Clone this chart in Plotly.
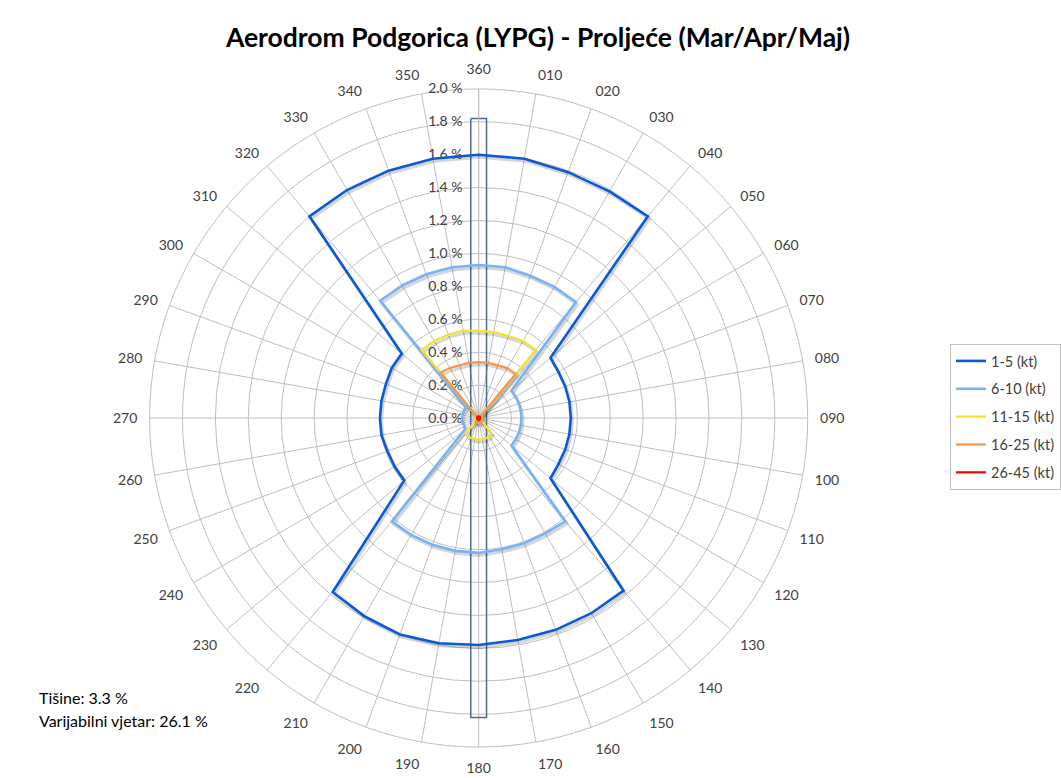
import math
import plotly.graph_objects as go

directions = [10, 20, 30, 40, 50, 60, 70, 80, 90, 100, 110, 120, 130, 140, 150, 160, 170, 180,
              190, 200, 210, 220, 230, 240, 250, 260, 270, 280, 290, 300, 310, 320, 330, 340, 350, 360]
dir_labels = ["%03d" % d for d in directions]

speed_1_5 = [1.60, 1.59, 1.59, 1.60, 0.57, 0.56, 0.56, 0.56, 0.56, 0.56, 0.56, 0.56, 0.57, 1.37,
             1.37, 1.37, 1.37, 1.38, 1.39, 1.40, 1.39, 1.38, 0.59, 0.59, 0.59, 0.60, 0.60, 0.60,
             0.60, 0.61, 0.61, 1.60, 1.60, 1.60, 1.60, 1.60]
speed_6_10 = [0.93, 0.92, 0.92, 0.92, 0.26, 0.26, 0.26, 0.26, 0.26, 0.26, 0.26, 0.26, 0.26, 0.82,
              0.81, 0.81, 0.81, 0.82, 0.82, 0.82, 0.82, 0.82, 0.11, 0.10, 0.10, 0.10, 0.10, 0.10,
              0.10, 0.10, 0.10, 0.93, 0.93, 0.93, 0.93, 0.93]
speed_11_15 = [0.53, 0.53, 0.54, 0.54, 0.02, 0.02, 0.02, 0.02, 0.02, 0.02, 0.02, 0.02, 0.02, 0.12,
               0.13, 0.13, 0.13, 0.13, 0.13, 0.13, 0.13, 0.12, 0.02, 0.02, 0.02, 0.02, 0.02, 0.02,
               0.02, 0.02, 0.02, 0.54, 0.54, 0.54, 0.54, 0.53]
speed_16_25 = [0.34, 0.34, 0.35, 0.35, 0.01, 0.01, 0.01, 0.01, 0.01, 0.01, 0.01, 0.01, 0.01, 0.03,
               0.03, 0.03, 0.03, 0.03, 0.03, 0.03, 0.03, 0.03, 0.01, 0.01, 0.01, 0.01, 0.01, 0.01,
               0.01, 0.01, 0.01, 0.36, 0.35, 0.34, 0.34, 0.34]
speed_26_45 = [0.01] * 36

series_names = ["1-5 (kt)", "6-10 (kt)", "11-15 (kt)", "16-25 (kt)", "26-45 (kt)"]
series_values = [speed_1_5, speed_6_10, speed_11_15, speed_16_25, speed_26_45]
series_colors = ["#0a5ad6", "#76b3f7", "#f3e22c", "#f5964a", "#ff0000"]
series_widths = [2.6, 2.6, 2.2, 2.2, 2.2]

calm_pct = 3.3
variable_pct = 26.1

# runway outline (in % units of the radial axis)
runway_half_width = 0.048
runway_half_length = 1.82

radial_ticks = [round(0.2 * i, 1) for i in range(11)]
radial_ticktext = ["%.1f %%" % v for v in radial_ticks]

FONT = "Lato"
GRID = "#bfbfbf"
TEXT = "#404040"
PAD = "\u00a0\u00a0\u00a0"  # visual gap between radial labels and the axis

fig = go.Figure()

# runway outline on the main (grid) polar
corners = [(-runway_half_width, runway_half_length), (runway_half_width, runway_half_length),
           (runway_half_width, -runway_half_length), (-runway_half_width, -runway_half_length),
           (-runway_half_width, runway_half_length)]
fig.add_trace(go.Scatterpolar(
    r=[math.hypot(x, y) for x, y in corners],
    theta=[math.degrees(math.atan2(x, y)) % 360 for x, y in corners],
    mode="lines", line=dict(color="#4a6b94", width=1.5), showlegend=False, hoverinfo="skip",
    subplot="polar",
))

# soft drop shadow under the series lines (drawn on an offset, axis-less polar)
for name, vals in zip(series_names, series_values):
    fig.add_trace(go.Scatterpolar(
        r=vals + vals[:1], theta=directions + directions[:1], mode="lines",
        line=dict(color="rgba(0,0,0,0.16)", width=3.2), subplot="polar2",
        showlegend=False, hoverinfo="skip",
    ))

for name, vals, col, w in zip(series_names, series_values, series_colors, series_widths):
    fig.add_trace(go.Scatterpolar(
        r=vals + vals[:1], theta=directions + directions[:1], mode="lines", name=name,
        line=dict(color=col, width=w), legendgroup=name, subplot="polar3",
    ))

W, H = 1061, 778
cx, cy, R = 480, 418, 330
dom = dict(x=[(cx - R) / W, (cx + R) / W], y=[(H - cy - R) / H, (H - cy + R) / H])
sdx, sdy = 1.5, 2.5
dom_shadow = dict(x=[(cx - R + sdx) / W, (cx + R + sdx) / W],
                  y=[(H - cy - R - sdy) / H, (H - cy + R - sdy) / H])

hidden_polar = lambda d: dict(
    domain=d, bgcolor="rgba(0,0,0,0)",
    angularaxis=dict(type="linear", rotation=90, direction="clockwise", visible=False),
    radialaxis=dict(range=[0, 2.0], visible=False),
)

fig.update_layout(
    width=W, height=H, margin=dict(l=0, r=0, t=0, b=0),
    paper_bgcolor="white", plot_bgcolor="white",
    font=dict(family=FONT, color=TEXT, size=14),
    title=dict(text="<b>Aerodrom Podgorica (LYPG) - Proljeće (Mar/Apr/Maj)</b>",
               x=538 / W, xanchor="center", y=1 - 38 / H, yanchor="middle",
               font=dict(family=FONT, size=26.5, color="#000000")),
    polar=dict(
        domain=dom,
        bgcolor="white",
        angularaxis=dict(
            type="linear", rotation=90, direction="clockwise", thetaunit="degrees",
            tickmode="array", tickvals=[d % 360 for d in directions], ticktext=dir_labels,
            showgrid=True, gridcolor=GRID, gridwidth=1,
            showline=True, linecolor=GRID, linewidth=1,
            ticks="outside", ticklen=9, tickcolor="rgba(0,0,0,0)",
            tickfont=dict(family=FONT, size=14, color=TEXT),
        ),
        radialaxis=dict(
            range=[0, 2.0], tickmode="array", tickvals=radial_ticks,
            ticktext=[t + PAD for t in radial_ticktext],
            angle=90, tickangle=90, side="counterclockwise",
            showgrid=True, gridcolor=GRID, gridwidth=1,
            showline=True, linecolor=GRID, linewidth=1, ticks="",
            tickfont=dict(family=FONT, size=14, color=TEXT),
        ),
    ),
    polar2=hidden_polar(dom_shadow),
    polar3=hidden_polar(dom),
    legend=dict(
        x=953 / W, xanchor="left", y=1 - 344 / H, yanchor="top",
        bordercolor="#bfbfbf", borderwidth=1, bgcolor="white",
        font=dict(family=FONT, size=14.5, color=TEXT), tracegroupgap=6,
    ),
    showlegend=True,
)

fig.add_annotation(text="Tišine: %.1f %%" % calm_pct, xref="paper", yref="paper",
                   x=37 / W, y=1 - 697 / H, xanchor="left", yanchor="middle", showarrow=False,
                   font=dict(family=FONT, size=16, color="#000000"))
fig.add_annotation(text="Varijabilni vjetar: %.1f %%" % variable_pct, xref="paper", yref="paper",
                   x=37 / W, y=1 - 720 / H, xanchor="left", yanchor="middle", showarrow=False,
                   font=dict(family=FONT, size=16, color="#000000"))

fig.write_html("out.html", config={"displayModeBar": False},
               post_script="document.body.style.margin='0px';")
